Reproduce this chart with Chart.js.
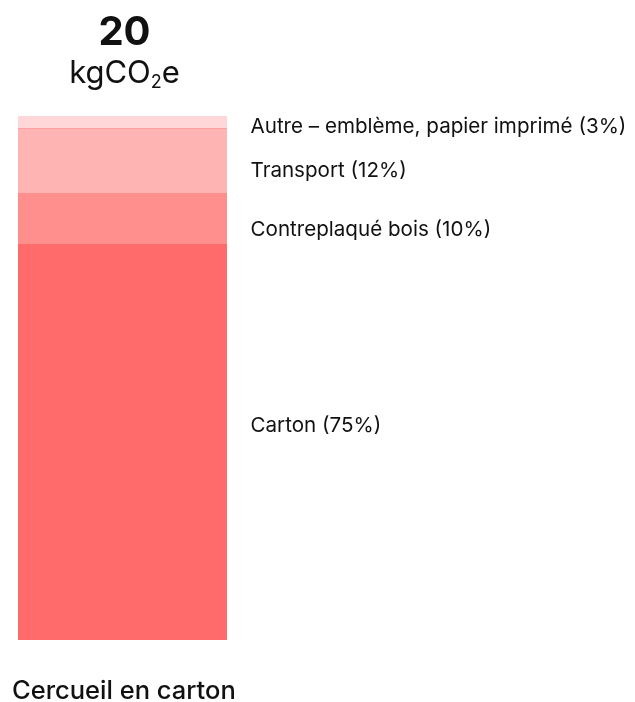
<!DOCTYPE html>
<html lang="fr">
<head>
<meta charset="utf-8">
<script src="https://cdn.jsdelivr.net/npm/chart.js@4/dist/chart.umd.min.js"></script>
<style>
  body { margin: 0; background: #fff; font-family: Inter, "Noto Sans", sans-serif; color: #111; }
  #wrap { position: relative; width: 635px; height: 702px; overflow: hidden; }
  #chart { position: absolute; left: 0; top: 0; }
  .total { position: absolute; left: 18px; width: 213px; text-align: center; }
  #num { top: 7px; font-size: 40px; font-weight: 700; line-height: 48px; }
  #unit { top: 54px; font-size: 31px; font-weight: 400; line-height: 36px; }
  #unit sub { font-size: 18px; vertical-align: -5px; line-height: 0; }
  #caption { position: absolute; left: 12px; top: 675px; font-size: 25.5px; font-weight: 500; line-height: 30px; }
</style>
</head>
<body>
<div id="wrap">
  <canvas id="chart" width="635" height="702"></canvas>
  <div class="total" id="num">20</div>
  <div class="total" id="unit">kgCO<sub>2</sub>e</div>
  <div id="caption">Cercueil en carton</div>
</div>
<script>
// un seul cercueil, empilé de bas en haut
const category = ["Cercueil en carton"];
const parts = ["Carton", "Contreplaqué bois", "Transport", "Autre – emblème, papier imprimé"];
const kgValues = [15.1, 1.95, 2.48, 0.5];   // kgCO2e, total 20
const shares = ["75%", "10%", "12%", "3%"];
const colors = ["#ff6b6b", "#ff8f8c", "#ffb4b4", "#ffd7d9"];

const total = 20;

// petit décalage vertical des étiquettes (px), comme dans l'original
const labelShift = [-16, 11, 9.5, 5.5];

const segmentLabels = {
  id: "segmentLabels",
  afterDatasetsDraw(chart) {
    const ctx = chart.ctx;
    ctx.save();
    ctx.font = "20.6px Inter";
    ctx.fillStyle = "#111";
    ctx.textBaseline = "middle";
    chart.data.datasets.forEach((ds, i) => {
      const bar = chart.getDatasetMeta(i).data[0];
      const mid = (bar.y + bar.base) / 2 + labelShift[i];
      ctx.fillText(parts[i] + " (" + shares[i] + ")", chart.chartArea.right + 23.5, mid);
    });
    ctx.restore();
  }
};

new Chart(document.getElementById("chart").getContext("2d"), {
  type: "bar",
  data: {
    labels: category,
    datasets: parts.map((p, i) => ({
      label: p,
      data: [kgValues[i]],
      backgroundColor: colors[i],
      borderColor: "#ffa0a0",
      borderWidth: i === 2 ? { top: 1, left: 0, right: 0, bottom: 0 } : 0,
      borderSkipped: "start",
      barPercentage: 1,
      categoryPercentage: 1
    }))
  },
  options: {
    responsive: false,
    animation: false,
    layout: { padding: { left: 18, right: 408, top: 116, bottom: 62 } },
    scales: {
      x: { stacked: true, display: false },
      y: { stacked: true, display: false, min: 0, max: total }
    },
    plugins: {
      legend: { display: false },
      tooltip: { enabled: false }
    }
  },
  plugins: [segmentLabels]
});
</script>
</body>
</html>
